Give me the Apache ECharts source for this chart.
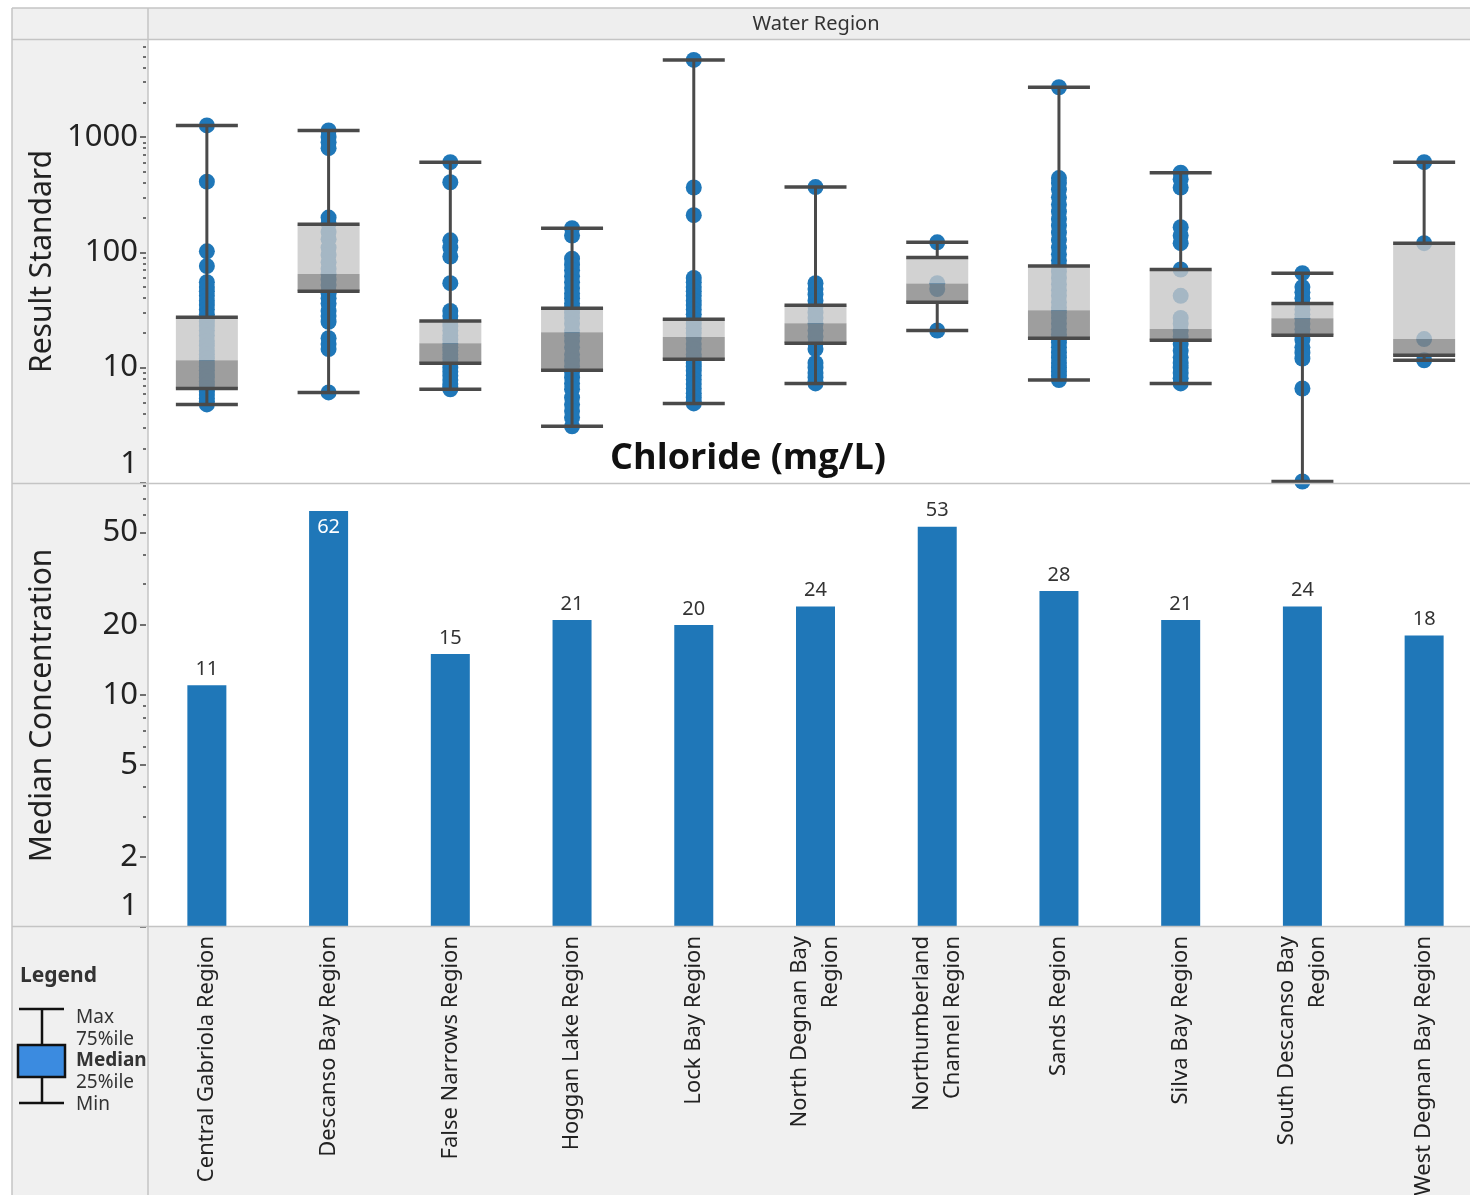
<!DOCTYPE html>
<html><head><meta charset="utf-8">
<script src="https://cdn.jsdelivr.net/npm/echarts@6/dist/echarts.min.js"></script>
<style>html,body{margin:0;padding:0;background:#fff}#c{width:1470px;height:1195px}</style>
</head><body><div id="c"></div>
<script>
// ---------- DATA ----------
const regions = ['Central Gabriola Region', 'Descanso Bay Region', 'False Narrows Region', 'Hoggan Lake Region',
  'Lock Bay Region', 'North Degnan Bay\nRegion', 'Northumberland\nChannel Region', 'Sands Region',
  'Silva Bay Region', 'South Descanso Bay\nRegion', 'West Degnan Bay Region'];

// bar chart: median concentration per region
const medianConcentration = [11, 62, 15, 21, 20, 24, 53, 28, 21, 24, 18];

// box plot summary (Result Standard, mg/L)
const boxMax    = [1260, 1140, 605, 162, 4660, 368, 122, 2700, 490, 66, 605];
const boxQ3     = [27.4, 175, 25.4, 32.7, 26.3, 34.8, 90, 76, 71, 36, 120];
const boxMedian = [11.6, 65, 16.3, 20.3, 18.4, 24.3, 53.7, 31.5, 21.6, 26.8, 17.7];
const boxQ1     = [6.6, 46, 10.9, 9.5, 11.8, 16.3, 37, 18, 17.3, 19.1, 12.8];
const boxMin    = [4.8, 6.1, 6.5, 3.1, 4.9, 7.3, 21, 7.8, 7.3, 1.03, 11.6];

// individual results per region
const ptsCentralGabriola = [1260, 410, 102, 76, 55, 50, 46, 42, 38, 35, 32, 29, 27, 25, 23, 21, 19, 17, 15.5, 14, 13, 12, 11, 10.2, 9.5, 8.8, 8.2, 7.6, 7.1, 6.6, 6.2, 5.8, 5.4, 5.1, 4.8];
const ptsDescansoBay = [1140, 1000, 900, 800, 200, 178, 150, 130, 110, 95, 82, 72, 65, 58, 52, 46, 44, 40, 36, 31, 28, 25, 18, 16, 14.5, 6.1];
const ptsFalseNarrows = [605, 405, 127, 110, 92, 54, 31, 28, 25, 23, 21, 19, 17.5, 16, 15, 14, 13, 12, 11, 10, 9.2, 8.5, 7.8, 7.2, 6.8, 6.5];
const ptsHogganLake = [162, 140, 88, 78, 70, 62, 55, 49, 44, 40, 36, 33, 30, 27, 24, 21, 19, 17, 15, 13, 11.5, 10.3, 9.2, 8.2, 7.3, 6.5, 5.5, 4.8, 4.2, 3.7, 3.1];
const ptsLockBay = [4660, 365, 210, 60, 55, 50, 46, 42, 38, 35, 32, 29, 26, 24, 22, 20, 18, 16, 14.5, 13, 12, 11, 10.2, 9.4, 8.6, 7.9, 7.2, 6.6, 6.0, 5.5, 5.1, 4.9];
const ptsNorthDegnanBay = [368, 54, 48, 43, 38, 34, 30, 27, 24, 21, 18.5, 16.3, 14.5, 11, 10, 9, 8.2, 7.6, 7.3];
const ptsNorthumberland = [122, 54, 48, 21];
const ptsSands = [2700, 440, 400, 350, 300, 260, 225, 195, 170, 148, 128, 110, 96, 85, 76, 68, 60, 53, 47, 42, 37, 33, 30, 27, 24, 21.5, 19.5, 18, 16.5, 15, 13.5, 12.2, 11, 10, 9.2, 8.5, 7.8];
const ptsSilvaBay = [490, 430, 365, 165, 140, 120, 71, 42, 27, 24, 21, 18.5, 16, 14, 12.3, 11, 10, 9, 8.1, 7.3];
const ptsSouthDescansoBay = [66, 50, 45, 40, 36, 32, 29, 26.8, 24, 21.5, 19.5, 17.5, 15, 13.5, 12, 6.6, 1.03];
const ptsWestDegnanBay = [605, 120, 17.7, 11.6];
const samples = [ptsCentralGabriola, ptsDescansoBay, ptsFalseNarrows, ptsHogganLake, ptsLockBay, ptsNorthDegnanBay,
  ptsNorthumberland, ptsSands, ptsSilvaBay, ptsSouthDescansoBay, ptsWestDegnanBay];

// axis ticks
const resultTicks = [1, 10, 100, 1000];
const resultMinorTicks = [2,3,4,5,6,7,8,9,20,30,40,50,60,70,80,90,200,300,400,500,600,700,800,900,2000,3000,4000,5000,6000];
const medianTicks = [1, 2, 5, 10, 20, 50];
const medianMinorTicks = [3, 4, 6, 7, 8, 9, 30, 40, 60, 70, 80];

// ---------- CHART ----------
const FONT = '"Noto Sans", "Open Sans", sans-serif';
const chart = echarts.init(document.getElementById('c'), null, {renderer: 'canvas'});

const scatterData = [];
samples.forEach((arr, i) => arr.forEach(v => scatterData.push([i, v])));
const boxData = regions.map((r, i) => [i, boxMin[i], boxQ1[i], boxMedian[i], boxQ3[i], boxMax[i]]);
const barData = medianConcentration.map(v => v > 60
  ? {value: v, label: {position: 'insideTop', color: '#ffffff', distance: 6}}
  : v);

const lowLabel = (v) => v === 1 ? '{lo|1}' : String(v);
const labelBase = {fontSize: 31, color: '#222', fontFamily: FONT, margin: 8};

const line = (x1, y1, x2, y2, w, c) => ({type: 'line', shape: {x1, y1, x2, y2}, style: {stroke: c || '#c4c4c4', lineWidth: w || 1.5}, z: 50, silent: true});
const txt = (x, y, t, size, weight, align) => ({type: 'text', x, y, silent: true, z: 60,
  style: {text: t, fontSize: size, fontWeight: weight || 'normal', fontFamily: FONT, fill: '#333', align: align || 'left', verticalAlign: 'middle'}});

const option = {
  backgroundColor: '#ffffff',
  animation: false,
  textStyle: {fontFamily: FONT},
  grid: [
    {left: 146, top: 40, width: 1339, height: 443, outerBoundsMode: 'none', containLabel: false},
    {left: 146, top: 484, width: 1339, height: 443, outerBoundsMode: 'none', containLabel: false}
  ],
  xAxis: [
    {type: 'category', gridIndex: 0, data: regions, boundaryGap: true,
     axisLine: {show: false}, axisTick: {show: false}, axisLabel: {show: false}, splitLine: {show: false}},
    {type: 'category', gridIndex: 1, data: regions, boundaryGap: true,
     axisLine: {show: false}, axisTick: {show: false}, splitLine: {show: false},
     axisLabel: {show: true, rotate: 90, interval: 0, fontSize: 22, lineHeight: 31, color: '#222', fontFamily: FONT, margin: 9}}
  ],
  yAxis: [
    {type: 'log', gridIndex: 0, min: 1, max: 6934, logBase: 10, position: 'left',
     axisLine: {show: false}, splitLine: {show: false},
     axisTick: {show: true, length: 6, customValues: resultTicks, lineStyle: {color: '#444', width: 1.5}},
     axisLabel: Object.assign({}, labelBase, {customValues: resultTicks, formatter: lowLabel,
       rich: {lo: {fontSize: 31, color: '#222', fontFamily: FONT, padding: [0, 0, 38, 0]}}}),
     name: 'Result Standard', nameLocation: 'middle', nameGap: 89, nameMoveOverlap: false,
     nameTextStyle: {fontSize: 30, color: '#222', fontFamily: FONT}},
    {type: 'log', gridIndex: 0, min: 1, max: 6934, logBase: 10, position: 'left',
     axisLine: {show: false}, splitLine: {show: false}, axisLabel: {show: false},
     axisTick: {show: true, length: 3, customValues: resultMinorTicks, lineStyle: {color: '#444', width: 1.5}}},
    {type: 'log', gridIndex: 1, min: 1, max: 81, logBase: 10, position: 'left',
     axisLine: {show: false}, splitLine: {show: false},
     axisTick: {show: true, length: 6, customValues: medianTicks, lineStyle: {color: '#444', width: 1.5}},
     axisLabel: Object.assign({}, labelBase, {customValues: medianTicks, formatter: lowLabel,
       rich: {lo: {fontSize: 31, color: '#222', fontFamily: FONT, padding: [0, 0, 42, 0]}}}),
     name: 'Median Concentration', nameLocation: 'middle', nameGap: 89, nameMoveOverlap: false,
     nameTextStyle: {fontSize: 30, color: '#222', fontFamily: FONT}},
    {type: 'log', gridIndex: 1, min: 1, max: 81, logBase: 10, position: 'left',
     axisLine: {show: false}, splitLine: {show: false}, axisLabel: {show: false},
     axisTick: {show: true, length: 3, customValues: medianMinorTicks, lineStyle: {color: '#444', width: 1.5}}}
  ],
  series: [
    {type: 'scatter', name: 'results', xAxisIndex: 0, yAxisIndex: 0, data: scatterData, z: 2,
     symbol: 'circle', symbolSize: 16, itemStyle: {color: '#1f77b8', opacity: 1}, silent: true},
    {type: 'custom', name: 'box', xAxisIndex: 0, yAxisIndex: 0, data: boxData, z: 3, silent: true,
     encode: {x: 0, y: [1, 2, 3, 4, 5]},
     renderItem: function (params, api) {
       const i = api.value(0);
       const pMin = api.coord([i, api.value(1)]);
       const pQ1 = api.coord([i, api.value(2)]);
       const pMed = api.coord([i, api.value(3)]);
       const pQ3 = api.coord([i, api.value(4)]);
       const pMax = api.coord([i, api.value(5)]);
       const x = pMin[0], w = 62, h = w / 2;
       const dark = '#4a4a4a';
       const ln = (x1, y1, x2, y2, lw) => ({type: 'line', shape: {x1, y1, x2, y2}, style: {stroke: dark, lineWidth: lw}});
       return {type: 'group', children: [
         ln(x, pMax[1], x, pQ3[1], 3),
         ln(x, pQ1[1], x, pMin[1], 3),
         {type: 'rect', shape: {x: x - h, y: pQ3[1], width: w, height: pMed[1] - pQ3[1]}, style: {fill: 'rgba(199,199,199,0.8)'}},
         {type: 'rect', shape: {x: x - h, y: pMed[1], width: w, height: pQ1[1] - pMed[1]}, style: {fill: 'rgba(134,134,134,0.8)'}},
         ln(x - h, pQ3[1], x + h, pQ3[1], 3.5),
         ln(x - h, pQ1[1], x + h, pQ1[1], 3.5),
         ln(x - h, pMax[1], x + h, pMax[1], 3.5),
         ln(x - h, pMin[1], x + h, pMin[1], 3.5)
       ]};
     }},
    {type: 'bar', name: 'median', xAxisIndex: 1, yAxisIndex: 2, data: barData, barWidth: 39, silent: true,
     itemStyle: {color: '#1f77b8'},
     label: {show: true, position: 'top', distance: 6, fontSize: 20, color: '#333', fontFamily: FONT}}
  ],
  graphic: [
    {type: 'rect', shape: {x: 12, y: 8, width: 136, height: 1187}, style: {fill: '#f0f0f0'}, z: -10, silent: true},
    {type: 'rect', shape: {x: 148, y: 8, width: 1322, height: 32}, style: {fill: '#eeeeee'}, z: -10, silent: true},
    {type: 'rect', shape: {x: 148, y: 927, width: 1322, height: 268}, style: {fill: '#f0f0f0'}, z: -10, silent: true},
    line(12, 8, 1470, 8), line(12, 39.5, 1470, 39.5), line(12, 483.5, 1470, 483.5), line(12, 926.5, 1470, 926.5),
    line(12, 8, 12, 1195), line(148, 8, 148, 1195),
    txt(816, 24, 'Water Region', 20, 'normal', 'center'),
    {type: 'text', x: 748, y: 459, silent: true, z: 60,
     style: {text: 'Chloride (mg/L)', fontSize: 36, fontWeight: 'bold', fontFamily: '"Open Sans", sans-serif', fill: '#111', align: 'center', verticalAlign: 'middle'}},
    // legend panel
    txt(20, 976, 'Legend', 21, 'bold', 'left'),
    line(19, 1009, 64, 1009, 2.5, '#111'), line(42, 1009, 42, 1045, 2.5, '#111'),
    {type: 'rect', shape: {x: 18, y: 1045, width: 47, height: 32}, style: {fill: '#3b8be0', stroke: '#111', lineWidth: 2.5}, z: 55, silent: true},
    line(18, 1059, 65, 1059, 2.5, '#111'),
    line(42, 1077, 42, 1103, 2.5, '#111'), line(19, 1103, 64, 1103, 2.5, '#111'),
    txt(76, 1018, 'Max', 19), txt(76, 1040, '75%ile', 19), txt(76, 1061, 'Median', 19, 'bold'),
    txt(76, 1083, '25%ile', 19), txt(76, 1105, 'Min', 19)
  ]
};
chart.setOption(option);
</script></body></html>
